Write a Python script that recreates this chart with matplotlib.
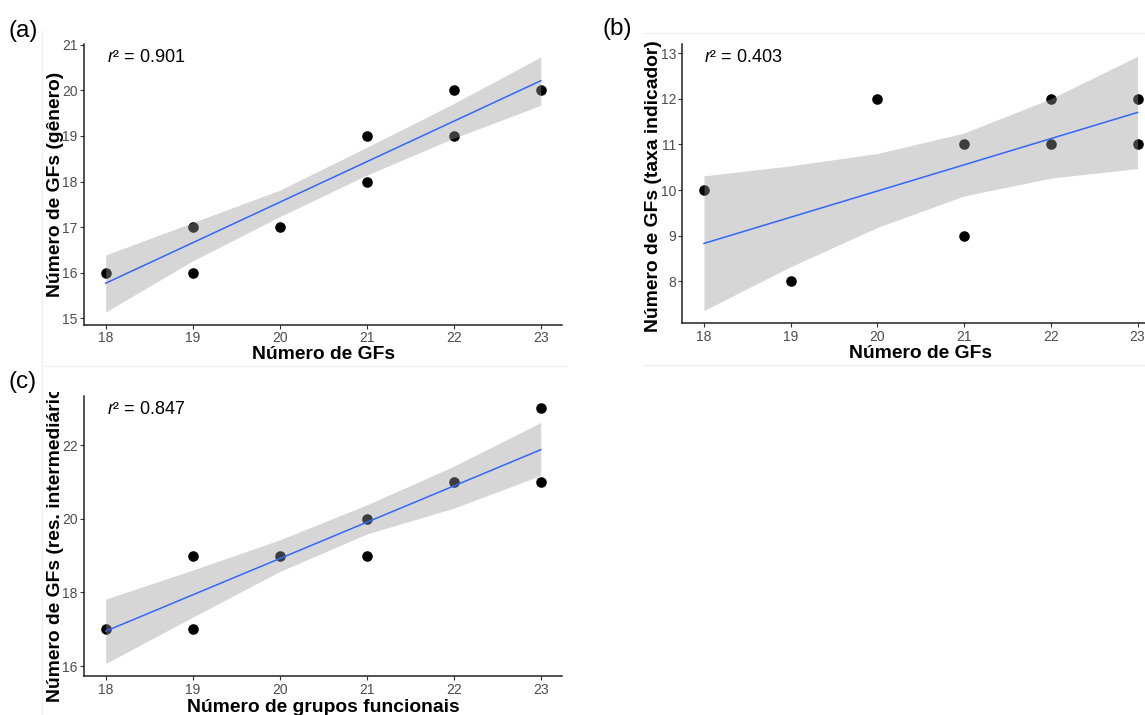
import matplotlib
matplotlib.use("Agg")
import matplotlib.pyplot as plt
from matplotlib.lines import Line2D
from matplotlib.transforms import Bbox, TransformedBbox

plt.rcParams.update({
    "font.family": "Liberation Sans",
    "mathtext.fontset": "custom",
    "mathtext.rm": "Liberation Sans",
    "mathtext.it": "Liberation Sans:italic",
})

W, H = 1145, 715  # output size in pixels (dpi 100)

# ---- data ----
# (a) genus
xa = [18, 19, 19, 20, 21, 21, 22, 22, 23]
ya = [16, 17, 16, 17, 19, 18, 20, 19, 20]
# (b) indicator taxa
xb = [18, 19, 20, 21, 21, 22, 22, 23, 23]
yb = [10, 8, 12, 11, 9, 12, 11, 12, 11]
# (c) intermediate resolution
xc = [18, 19, 19, 20, 21, 21, 22, 23, 23]
yc = [17, 19, 17, 19, 20, 19, 21, 23, 21]

# lm fit (ends) and 95% band read at each x
fit_x = [18, 23]
fit_a = [15.77, 20.21]
fit_b = [8.83, 11.70]
fit_c = [16.95, 21.88]

band_x = [18, 19, 20, 21, 22, 23]
lo_a = [15.14, 16.26, 17.23, 18.14, 18.95, 19.67]
hi_a = [16.39, 17.10, 17.81, 18.75, 19.71, 20.73]
lo_b = [7.36, 8.32, 9.18, 9.87, 10.26, 10.47]
hi_b = [10.31, 10.53, 10.80, 11.25, 12.00, 12.93]
lo_c = [16.07, 17.33, 18.57, 19.59, 20.29, 21.18]
hi_c = [17.82, 18.61, 19.43, 20.38, 21.43, 22.62]

r2_values = ["0.901", "0.403", "0.847"]
panel_tags = ["(a)", "(b)", "(c)"]
xlabels = ["Número de GFs", "Número de GFs", "Número de grupos funcionais"]
ylabels = ["Número de GFs (gênero)",
           "Número de GFs (taxa indicador)",
           "Número de GFs (res. intermediários)"]

fig = plt.figure(figsize=(W / 100, H / 100), dpi=100)
fig.patch.set_facecolor("white")


def px_axes(left, top, right, bottom):
    return fig.add_axes([left / W, 1 - bottom / H, (right - left) / W, (bottom - top) / H])


def fig_text(x, y, s, **kw):
    return fig.text(x / W, 1 - y / H, s, **kw)


def faint_line(x0, y0, x1, y1):
    fig.add_artist(Line2D([x0 / W, x1 / W], [1 - y0 / H, 1 - y1 / H],
                          transform=fig.transFigure, color="#f1f1f1", lw=1))


def draw_panel(ax, x, y, lo, hi, fit, ylim, yticks, r2, r2_pos):
    ax.scatter(x, y, s=58, color="black", lw=0, zorder=2, clip_on=False)
    ax.fill_between(band_x, lo, hi, color="#999999", alpha=0.4, lw=0, zorder=3)
    ax.plot(fit_x, fit, color="#3366FF", lw=1.1, zorder=4)
    ax.set_xlim(17.75, 23.25)
    ax.set_ylim(*ylim)
    ax.set_xticks([18, 19, 20, 21, 22, 23])
    ax.set_yticks(yticks)
    for side in ["top", "right"]:
        ax.spines[side].set_visible(False)
    for side in ["left", "bottom"]:
        ax.spines[side].set_color("#222222")
        ax.spines[side].set_linewidth(1.1)
    ax.tick_params(length=3, width=0.8, color="#333333", labelcolor="#4d4d4d",
                   labelsize=10, pad=1.5)
    ax.text(r2_pos[0], r2_pos[1], r"$\mathit{r}$² = " + r2, fontsize=13,
            ha="left", va="center", color="black")


# faint borders of the pasted panels
faint_line(42, 30, 42, 715)
faint_line(42, 366, 567, 366)
faint_line(643, 33, 1145, 33)
faint_line(643, 365, 1145, 365)

# (a)
ax_a = px_axes(84, 43.8, 562.5, 324.7)
draw_panel(ax_a, xa, ya, lo_a, hi_a, fit_a, (14.86, 21.02), range(15, 22), r2_values[0], (18.015, 20.73))

# (b)
ax_b = px_axes(682.3, 43.5, 1159.2, 323.3)
draw_panel(ax_b, xb, yb, lo_b, hi_b, fit_b, (7.08, 13.21), range(8, 14), r2_values[1], (18.0, 12.91))

# (c)
ax_c = px_axes(84, 395.6, 562.5, 676.4)
draw_panel(ax_c, xc, yc, lo_c, hi_c, fit_c, (15.72, 23.35), [16, 18, 20, 22], r2_values[2], (18.015, 22.96))

# axis titles
title_kw = dict(fontsize=13.9, fontweight="bold", color="black")
fig_text(323.2, 359, xlabels[0], ha="center", va="baseline", **title_kw)
fig_text(920.7, 358, xlabels[1], ha="center", va="baseline", **title_kw)
fig_text(323.2, 712, xlabels[2], ha="center", va="baseline", **title_kw)

ylab_pos = [(55.3, 184.2, None), (653.5, 186.0, 42), (55.3, 536.0, 392)]
for (x, y, clip_y), lab in zip(ylab_pos, ylabels):
    t = fig_text(x, y, lab, rotation=90, ha="center", va="center", **title_kw)
    if clip_y is not None:
        t.set_clip_box(TransformedBbox(Bbox([[0, 0], [1, 1 - clip_y / H]]), fig.transFigure))
        t.set_clip_on(True)

# panel tags
for (x, y), tag in zip([(8, 31), (603, 29), (8, 382)], panel_tags):
    fig_text(x, y, tag, fontsize=17.5, ha="left", va="center", color="black")

fig.savefig("out.png", dpi=100)
